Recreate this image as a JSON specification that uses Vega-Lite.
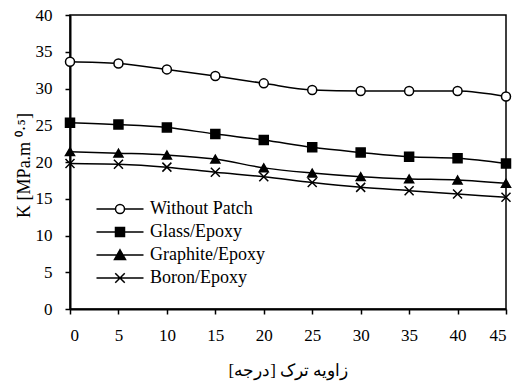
{
  "$schema": "https://vega.github.io/schema/vega-lite/v6.json",
  "width": 436,
  "height": 294,
  "autosize": {"type": "none"},
  "padding": {"left": 70, "top": 15, "right": 8, "bottom": 72},
  "background": "white",
  "config": {"view": {"stroke": "black", "strokeWidth": 1.5}, "font": "'Liberation Serif', 'Times New Roman', serif"},
  "data": {"values": [
    {"series": "Without Patch", "angle": 0, "K": 33.65},
    {"series": "Without Patch", "angle": 5, "K": 33.4},
    {"series": "Without Patch", "angle": 10, "K": 32.6},
    {"series": "Without Patch", "angle": 15, "K": 31.7},
    {"series": "Without Patch", "angle": 20, "K": 30.7},
    {"series": "Without Patch", "angle": 25, "K": 29.8},
    {"series": "Without Patch", "angle": 30, "K": 29.65},
    {"series": "Without Patch", "angle": 35, "K": 29.65},
    {"series": "Without Patch", "angle": 40, "K": 29.65},
    {"series": "Without Patch", "angle": 45, "K": 28.9},
    {"series": "Glass/Epoxy", "angle": 0, "K": 25.35},
    {"series": "Glass/Epoxy", "angle": 5, "K": 25.1},
    {"series": "Glass/Epoxy", "angle": 10, "K": 24.7},
    {"series": "Glass/Epoxy", "angle": 15, "K": 23.8},
    {"series": "Glass/Epoxy", "angle": 20, "K": 23.0},
    {"series": "Glass/Epoxy", "angle": 25, "K": 22.0},
    {"series": "Glass/Epoxy", "angle": 30, "K": 21.3},
    {"series": "Glass/Epoxy", "angle": 35, "K": 20.7},
    {"series": "Glass/Epoxy", "angle": 40, "K": 20.5},
    {"series": "Glass/Epoxy", "angle": 45, "K": 19.8},
    {"series": "Graphite/Epoxy", "angle": 0, "K": 21.4},
    {"series": "Graphite/Epoxy", "angle": 5, "K": 21.2},
    {"series": "Graphite/Epoxy", "angle": 10, "K": 20.95},
    {"series": "Graphite/Epoxy", "angle": 15, "K": 20.4},
    {"series": "Graphite/Epoxy", "angle": 20, "K": 19.2},
    {"series": "Graphite/Epoxy", "angle": 25, "K": 18.5},
    {"series": "Graphite/Epoxy", "angle": 30, "K": 18.0},
    {"series": "Graphite/Epoxy", "angle": 35, "K": 17.7},
    {"series": "Graphite/Epoxy", "angle": 40, "K": 17.55},
    {"series": "Graphite/Epoxy", "angle": 45, "K": 17.1},
    {"series": "Boron/Epoxy", "angle": 0, "K": 19.8},
    {"series": "Boron/Epoxy", "angle": 5, "K": 19.7},
    {"series": "Boron/Epoxy", "angle": 10, "K": 19.3},
    {"series": "Boron/Epoxy", "angle": 15, "K": 18.6},
    {"series": "Boron/Epoxy", "angle": 20, "K": 18.0},
    {"series": "Boron/Epoxy", "angle": 25, "K": 17.2},
    {"series": "Boron/Epoxy", "angle": 30, "K": 16.55},
    {"series": "Boron/Epoxy", "angle": 35, "K": 16.1},
    {"series": "Boron/Epoxy", "angle": 40, "K": 15.65},
    {"series": "Boron/Epoxy", "angle": 45, "K": 15.2}
  ]},
  "encoding": {
    "x": {
      "field": "angle", "type": "quantitative",
      "scale": {"domain": [0, 45], "nice": false, "zero": false},
      "axis": {
        "title": "زاویه ترک [درجه]",
        "values": [0, 5, 10, 15, 20, 25, 30, 35, 40, 45],
        "grid": false, "domainColor": "black", "domainWidth": 2,
        "tickColor": "black", "tickWidth": 1.5, "tickSize": 5,
        "labelFont": "'Liberation Serif', 'Times New Roman', serif", "labelFontSize": 17, "labelColor": "black", "labelPadding": 13,
        "titleFont": "'Liberation Serif', 'Times New Roman', serif", "titleFontSize": 17, "titleFontWeight": "normal", "titleColor": "black",
        "titleY": 61, "titleBaseline": "middle"
      }
    },
    "y": {
      "field": "K", "type": "quantitative",
      "scale": {"domain": [0, 40], "nice": false},
      "axis": {
        "title": "K [MPa.m ⁰·⁵]",
        "values": [0, 5, 10, 15, 20, 25, 30, 35, 40],
        "grid": false, "domainColor": "black", "domainWidth": 2,
        "tickColor": "black", "tickWidth": 1.5, "tickSize": 5,
        "labelFont": "'Liberation Serif', 'Times New Roman', serif", "labelFontSize": 17, "labelColor": "black", "labelPadding": 13,
        "titleFont": "'Liberation Serif', 'Times New Roman', serif", "titleFontSize": 18, "titleFontWeight": "normal", "titleColor": "black",
        "titleX": -46, "titleY": 150, "titleAngle": 270, "titleAlign": "center", "titleBaseline": "middle"
      }
    }
  },
  "layer": [
    {
      "mark": {"type": "line", "interpolate": "monotone", "color": "black", "strokeWidth": 1.5},
      "encoding": {"detail": {"field": "series"}}
    },
    {
      "mark": {"type": "point", "filled": true, "stroke": "black", "strokeWidth": 1.5, "size": 81, "opacity": 1},
      "encoding": {
        "shape": {"field": "series", "type": "nominal",
          "scale": {"domain": ["Without Patch", "Glass/Epoxy", "Graphite/Epoxy", "Boron/Epoxy"],
                    "range": ["circle", "square", "triangle-up", "M-1,-1L1,1M-1,1L1,-1"]},
          "legend": null},
        "fill": {"field": "series", "type": "nominal",
          "scale": {"domain": ["Without Patch", "Glass/Epoxy", "Graphite/Epoxy", "Boron/Epoxy"],
                    "range": ["white", "black", "black", "black"]},
          "legend": null}
      }
    },
    {
      "mark": {"type": "point", "opacity": 0, "color": "black"},
      "encoding": {
        "shape": {"field": "series", "type": "nominal",
          "scale": {"domain": ["Without Patch", "Glass/Epoxy", "Graphite/Epoxy", "Boron/Epoxy"],
                    "range": [
                      "M-4.7,0H-0.9M0.9,0H4.7M-0.9,0A0.9,0.9 0 1,1 0.9,0A0.9,0.9 0 1,1 -0.9,0Z",
                      "M-4.7,0H4.7M-0.9,-0.9H0.9V0.9H-0.9Z",
                      "M-4.7,0H4.7M0,-1.05L1.1,0.9H-1.1Z",
                      "M-4.7,0H4.7M-0.95,-0.95L0.95,0.95M-0.95,0.95L0.95,-0.95"
                    ]},
          "legend": {
            "orient": "none", "legendX": 41, "legendY": 185, "title": null, "padding": 0,
            "symbolSize": 100, "labelOffset": 21, "rowPadding": 5,
            "labelFont": "'Liberation Serif', 'Times New Roman', serif", "labelFontSize": 18, "labelColor": "black",
            "symbolStrokeWidth": 1.5, "symbolStrokeColor": "black",
            "encoding": {
              "symbols": {
                "opacity": {"value": 1},
                "stroke": {"value": "black"},
                "strokeWidth": {"value": 1.5},
                "size": {"value": 100},
                "fill": {"condition": {"test": "datum.value === 'Without Patch'", "value": "white"}, "value": "black"}
              }
            }
          }
        }
      }
    }
  ],
  "resolve": {"scale": {"shape": "independent"}}
}
